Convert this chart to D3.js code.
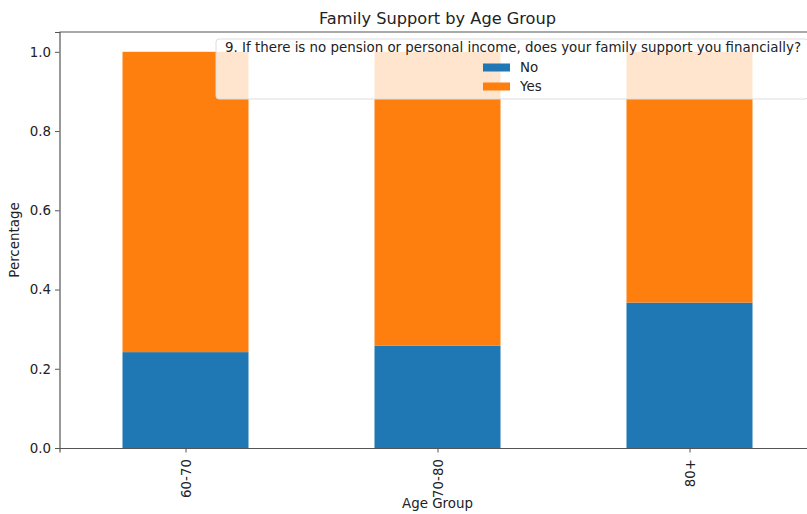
<!DOCTYPE html>
<html><head><meta charset="utf-8">
<script src="https://cdn.jsdelivr.net/npm/d3@7"></script>
<style>body{margin:0;background:#fff}svg{display:block;font-family:"DejaVu Sans",sans-serif}</style>
</head><body>
<svg id="c" width="807" height="514"></svg>
<script>
const categories = ["60-70", "70-80", "80+"];
const seriesNames = ["No", "Yes"];
const noValues = [0.242, 0.258, 0.367];
const yesValues = [0.758, 0.742, 0.633];
const yTicks = [0.0, 0.2, 0.4, 0.6, 0.8, 1.0];
const colors = ["#1f77b4", "#ff7f0e"];

const svg = d3.select("#c");
const L = 59.5, R = 815.5, T = 32, B = 448;
const FS = 13.4;
const x = d3.scaleLinear().domain([-0.5, 2.5]).range([L, R]);
const y = d3.scaleLinear().domain([0, 1.05]).range([B, T]);

const rows = categories.map((c, i) => ({cat: c, i, No: noValues[i], Yes: yesValues[i]}));
const stacked = d3.stack().keys(seriesNames)(rows);

const g = svg.append("g");
stacked.forEach((s, k) => {
  g.selectAll(null).data(s).enter().append("rect")
    .attr("x", d => x(d.data.i - 0.25))
    .attr("width", d => x(d.data.i + 0.25) - x(d.data.i - 0.25))
    .attr("y", d => y(d[1]))
    .attr("height", d => y(d[0]) - y(d[1]))
    .attr("fill", colors[k]);
});

// axes
const yAxis = svg.append("g").attr("transform", `translate(${L},0)`)
  .call(d3.axisLeft(y).tickValues(yTicks).tickFormat(d3.format(".1f")).tickSize(4.5).tickPadding(4));
const xAxis = svg.append("g").attr("transform", `translate(0,${B})`)
  .call(d3.axisBottom(x).tickValues([0,1,2]).tickFormat(i => categories[i]).tickSize(4.5).tickPadding(4));
[yAxis, xAxis].forEach(a => {
  a.select(".domain").attr("stroke", "#555").attr("stroke-width", 1.2);
  a.selectAll(".tick line").attr("stroke", "#555");
  a.selectAll("text").attr("font-size", FS).attr("fill", "#222").attr("font-family", "DejaVu Sans");
});
xAxis.selectAll("text")
  .attr("transform", "rotate(-90)")
  .attr("text-anchor", "end")
  .attr("x", -11).attr("y", 0).attr("dy", "0.35em");
// top spine
svg.append("line").attr("x1", L).attr("x2", R).attr("y1", T).attr("y2", T)
  .attr("stroke", "#555").attr("stroke-width", 1.2);

// title and labels
svg.append("text").attr("x", (L + R) / 2).attr("y", 24).attr("text-anchor", "middle")
  .attr("font-size", 16.2).attr("fill", "#222").text("Family Support by Age Group");
svg.append("text").attr("x", (L + R) / 2).attr("y", 508).attr("text-anchor", "middle")
  .attr("font-size", FS).attr("fill", "#222").text("Age Group");
svg.append("text").attr("transform", `translate(19,${(T + B) / 2}) rotate(-90)`).attr("text-anchor", "middle")
  .attr("font-size", FS).attr("fill", "#222").text("Percentage");

// legend
const lg = svg.append("g");
lg.append("rect").attr("x", 216).attr("y", 39).attr("width", 592).attr("height", 60).attr("rx", 3)
  .attr("fill", "#fff").attr("fill-opacity", 0.8).attr("stroke", "#ddd").attr("stroke-width", 1);
lg.append("text").attr("x", 513).attr("y", 52).attr("text-anchor", "middle")
  .attr("font-size", FS).attr("fill", "#222")
  .text("9. If there is no pension or personal income, does your family support you financially?");
seriesNames.forEach((n, k) => {
  const yy = 67 + k * 19;
  lg.append("rect").attr("x", 483).attr("y", yy - 3.5).attr("width", 27).attr("height", 8).attr("fill", colors[k]);
  lg.append("text").attr("x", 520).attr("y", yy).attr("dy", "0.35em").attr("font-size", FS).attr("fill", "#222").text(n);
});
</script>
</body></html>
